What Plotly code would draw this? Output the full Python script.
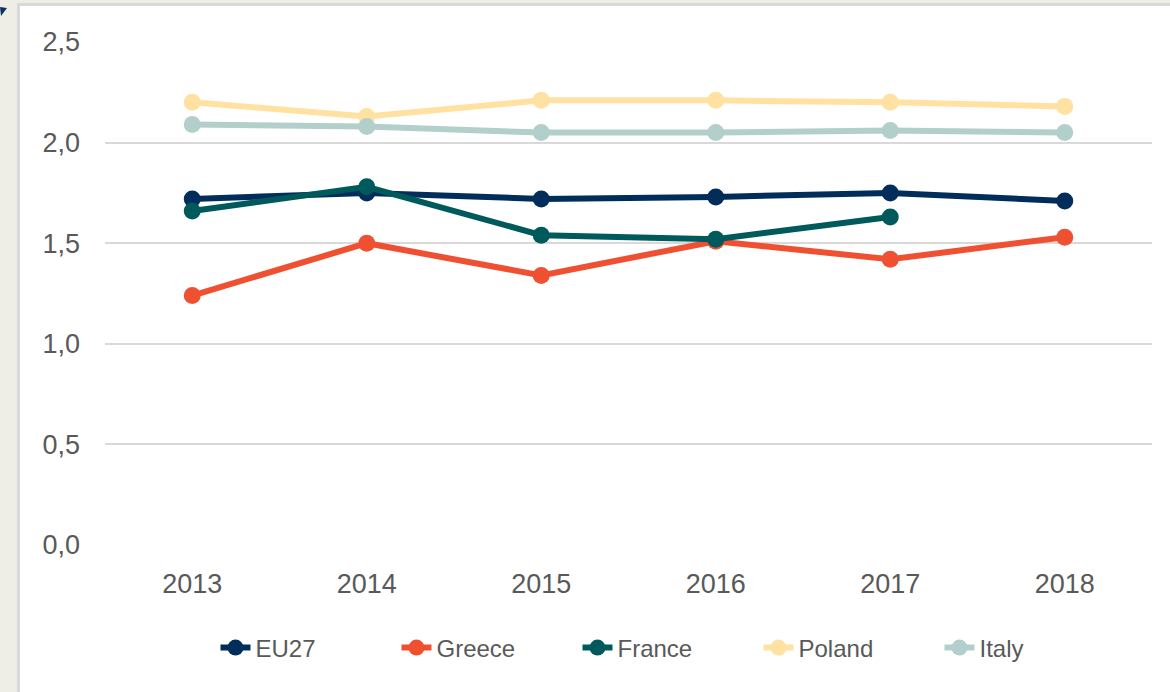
import plotly.graph_objects as go

years = ["2013", "2014", "2015", "2016", "2017", "2018"]
eu27 = [1.72, 1.75, 1.72, 1.73, 1.75, 1.71]
greece = [1.24, 1.50, 1.34, 1.51, 1.42, 1.53]
france = [1.66, 1.78, 1.54, 1.52, 1.63, None]
poland = [2.20, 2.13, 2.21, 2.21, 2.20, 2.18]
italy = [2.09, 2.08, 2.05, 2.05, 2.06, 2.05]
ytick_vals = [0, 0.5, 1.0, 1.5, 2.0, 2.5]
ytick_text = ["0,0", "0,5", "1,0", "1,5", "2,0", "2,5"]

series = [
    ("EU27", eu27, "#002D59"),
    ("Greece", greece, "#F05032"),
    ("France", france, "#005A5B"),
    ("Poland", poland, "#FFE1A1"),
    ("Italy", italy, "#B3CFCB"),
]

W, H = 1170, 692
L, R, T, B = 105, 18, 42, 147
pw, ph = W - L - R, H - T - B


def px(x):
    return (x - L) / pw


def py(y):
    return (H - B - y) / ph


fig = go.Figure()
for name, vals, col in series:
    fig.add_trace(go.Scatter(
        x=years, y=vals, name=name, mode="lines+markers",
        line=dict(color=col, width=6),
        marker=dict(color=col, size=17),
        connectgaps=False,
    ))

beige = "#EEEDE6"
border = "#D9D9D9"
shapes = [
    dict(type="rect", xref="paper", yref="paper", x0=px(0), x1=px(17), y0=py(H), y1=py(0),
         fillcolor=beige, line=dict(width=0), layer="below"),
    dict(type="rect", xref="paper", yref="paper", x0=px(0), x1=px(W), y0=py(3), y1=py(0),
         fillcolor=beige, line=dict(width=0), layer="below"),
    dict(type="rect", xref="paper", yref="paper", x0=px(17), x1=px(20), y0=py(H), y1=py(3),
         fillcolor=border, line=dict(width=0), layer="below"),
    dict(type="rect", xref="paper", yref="paper", x0=px(17), x1=px(W), y0=py(6), y1=py(3),
         fillcolor=border, line=dict(width=0), layer="below"),
    dict(type="path", xref="paper", yref="paper",
         path=f"M {px(0)},{py(7)} L {px(7)},{py(8)} L {px(1)},{py(16)} Z",
         fillcolor="#0D3260", line=dict(width=0), layer="below"),
]

fig.update_layout(
    width=W, height=H,
    margin=dict(l=L, r=R, t=T, b=B),
    paper_bgcolor="white",
    plot_bgcolor="white",
    font=dict(family="Liberation Sans, Arial, sans-serif", color="#595959", size=26),
    shapes=shapes,
    showlegend=True,
    legend=dict(
        orientation="h", x=px(668), xanchor="center", y=py(648), yanchor="middle",
        font=dict(size=24, color="#595959"), itemwidth=30, entrywidth=136,
        tracegroupgap=0, bgcolor="rgba(0,0,0,0)",
    ),
    xaxis=dict(
        type="category", showgrid=False, showline=False, zeroline=False,
        ticks="", ticklabelstandoff=20, tickfont=dict(size=27),
        range=[-0.5, 5.5],
    ),
    yaxis=dict(
        range=[0, 2.5], tickvals=ytick_vals, ticktext=ytick_text,
        showgrid=True, gridcolor=border, gridwidth=2, zeroline=False,
        showline=False, ticks="", ticklabelstandoff=24, tickfont=dict(size=27),
    ),
)

fig.write_html(
    "out.html",
    config={"displayModeBar": False},
    post_script="document.body.style.margin='0';document.body.style.overflow='hidden';",
)
